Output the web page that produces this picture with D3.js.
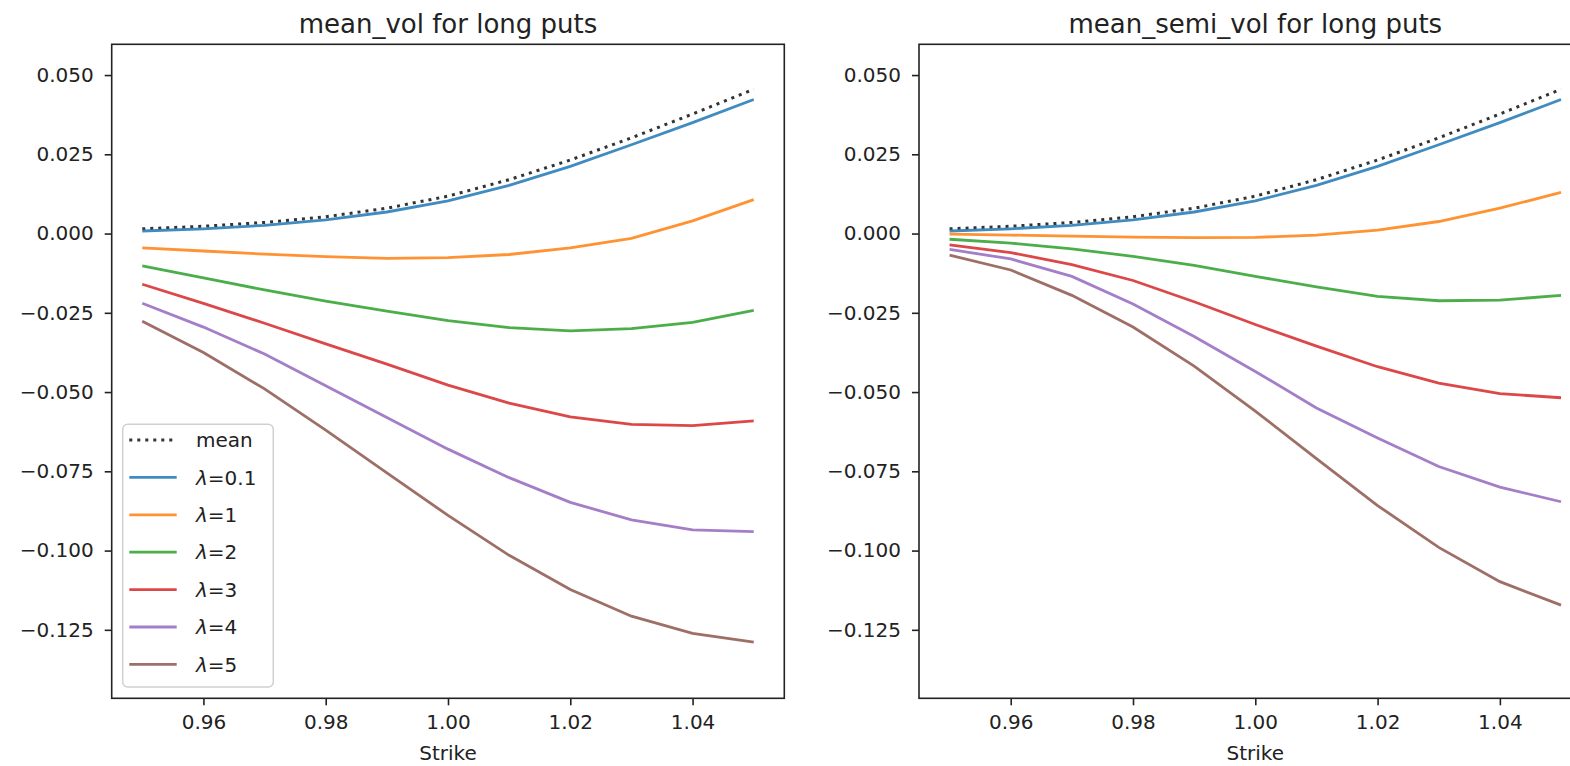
<!DOCTYPE html>
<html>
<head>
<meta charset="utf-8">
<script src="https://cdn.jsdelivr.net/npm/d3@7"></script>
<style>
  body { margin: 0; background: #fff; }
  svg text { font-family: "DejaVu Sans", sans-serif; fill: #222; }
</style>
</head>
<body>
<div id="chart"></div>
<script>
// strikes on the x axis
var strikes = [0.95, 0.96, 0.97, 0.98, 0.99, 1.00, 1.01, 1.02, 1.03, 1.04, 1.05];

// left panel: mean_vol
var meanLeft   = [0.0015, 0.0023, 0.0035, 0.0053, 0.0080, 0.0118, 0.0170, 0.0232, 0.0302, 0.0377, 0.0455];
var volLam01   = [0.0008, 0.0015, 0.0026, 0.0043, 0.0068, 0.0103, 0.0152, 0.0212, 0.0280, 0.0350, 0.0423];
var volLam1    = [-0.0045, -0.0055, -0.0065, -0.0073, -0.0078, -0.0076, -0.0066, -0.0045, -0.0015, 0.0040, 0.0107];
var volLam2    = [-0.0102, -0.0140, -0.0178, -0.0213, -0.0245, -0.0275, -0.0297, -0.0307, -0.0300, -0.0280, -0.0242];
var volLam3    = [-0.0160, -0.0220, -0.0283, -0.0348, -0.0412, -0.0478, -0.0535, -0.0578, -0.0602, -0.0606, -0.0591];
var volLam4    = [-0.0220, -0.0295, -0.0380, -0.0480, -0.0580, -0.0680, -0.0770, -0.0848, -0.0903, -0.0935, -0.0940];
var volLam5    = [-0.0277, -0.0375, -0.0490, -0.0620, -0.0755, -0.0889, -0.1015, -0.1123, -0.1207, -0.1261, -0.1289];

// right panel: mean_semi_vol
var meanRight  = [0.0015, 0.0023, 0.0035, 0.0053, 0.0080, 0.0118, 0.0170, 0.0232, 0.0302, 0.0377, 0.0455];
var semiLam01  = [0.0008, 0.0015, 0.0026, 0.0043, 0.0068, 0.0103, 0.0152, 0.0212, 0.0280, 0.0350, 0.0423];
var semiLam1   = [-0.0002, -0.0005, -0.0008, -0.0011, -0.0013, -0.0012, -0.0005, 0.0011, 0.0038, 0.0080, 0.0130];
var semiLam2   = [-0.0018, -0.0030, -0.0048, -0.0072, -0.0100, -0.0135, -0.0168, -0.0198, -0.0212, -0.0210, -0.0195];
var semiLam3   = [-0.0036, -0.0060, -0.0098, -0.0148, -0.0215, -0.0287, -0.0355, -0.0420, -0.0472, -0.0505, -0.0518];
var semiLam4   = [-0.0050, -0.0080, -0.0135, -0.0222, -0.0325, -0.0435, -0.0550, -0.0645, -0.0735, -0.0800, -0.0846];
var semiLam5   = [-0.0068, -0.0115, -0.0195, -0.0295, -0.0418, -0.0560, -0.0710, -0.0858, -0.0990, -0.1098, -0.1172];

var lambdaLabels = ["0.1", "1", "2", "3", "4", "5"];
var xTicks = [0.96, 0.98, 1.00, 1.02, 1.04];
var yTicks = [-0.125, -0.100, -0.075, -0.050, -0.025, 0.000, 0.025, 0.050];

var colors = ["#1f77b4", "#ff7f0e", "#2ca02c", "#d62728", "#9467bd", "#8c564b"];

var panelW = 672.6, panelH = 654;

var svg = d3.select('#chart').append('svg')
  .attr('width', 1570)
  .attr('height', 766);

var x = d3.scaleLinear().domain([0.945, 1.055]).range([0, panelW]);
var y = d3.scaleLinear().domain([-0.1466, 0.0597]).range([panelH, 0]);

var line = d3.line()
  .x(function(d, i) { return x(strikes[i]); })
  .y(function(d) { return y(d); });

function drawPanel(left, title, meanVals, series, withLegend) {
  var g = svg.append('g').attr('transform', 'translate(' + left + ',44.3)');

  g.append('defs').append('clipPath').attr('id', 'clip' + Math.round(left))
    .append('rect').attr('width', panelW).attr('height', panelH);

  var plot = g.append('g').attr('clip-path', 'url(#clip' + Math.round(left) + ')');

  plot.append('path')
    .datum(meanVals)
    .attr('d', line)
    .attr('fill', 'none')
    .attr('stroke', '#333')
    .attr('stroke-width', 3)
    .attr('stroke-dasharray', '3,5');

  series.forEach(function(s, k) {
    plot.append('path')
      .datum(s)
      .attr('d', line)
      .attr('fill', 'none')
      .attr('stroke', colors[k])
      .attr('stroke-opacity', 0.85)
      .attr('stroke-width', 2.8);
  });

  var xAxis = d3.axisBottom(x).tickValues(xTicks).tickFormat(d3.format('.2f')).tickSize(7).tickPadding(10);
  var yAxis = d3.axisLeft(y).tickValues(yTicks).tickFormat(d3.format('.3f')).tickSize(7).tickPadding(11);

  var gx = g.append('g').attr('transform', 'translate(0,' + panelH + ')').call(xAxis);
  var gy = g.append('g').call(yAxis);
  [gx, gy].forEach(function(a) {
    a.select('.domain').remove();
    a.selectAll('line').attr('stroke', '#222').attr('stroke-width', 1.6);
    a.selectAll('text').style('font-size', '20px').attr('fill', '#222');
  });

  // frame
  g.append('rect')
    .attr('width', panelW).attr('height', panelH)
    .attr('fill', 'none').attr('stroke', '#222').attr('stroke-width', 1.6);

  g.append('text')
    .attr('x', panelW / 2).attr('y', -11)
    .attr('text-anchor', 'middle')
    .style('font-size', '26px')
    .text(title);

  g.append('text')
    .attr('x', panelW / 2).attr('y', 716)
    .attr('text-anchor', 'middle')
    .style('font-size', '20px')
    .text('Strike');

  if (withLegend) {
    var lg = g.append('g').attr('transform', 'translate(11,380)');
    lg.append('rect')
      .attr('width', 150.6).attr('height', 262.7)
      .attr('rx', 5).attr('ry', 5)
      .attr('fill', '#fff').attr('fill-opacity', 0.8)
      .attr('stroke', '#d0d0d0').attr('stroke-width', 1.5);

    var entries = [{ label: 'mean', color: '#333', dash: '3,5' }];
    lambdaLabels.forEach(function(l, k) { entries.push({ label: l, color: colors[k], dash: null }); });

    entries.forEach(function(e, k) {
      var ry = 15.7 + k * 37.4;
      lg.append('line')
        .attr('x1', 6.6).attr('x2', 54)
        .attr('y1', ry).attr('y2', ry)
        .attr('stroke', e.color)
        .attr('stroke-opacity', e.dash ? 1 : 0.85)
        .attr('stroke-width', e.dash ? 3 : 2.8)
        .attr('stroke-dasharray', e.dash);
      var t = lg.append('text')
        .attr('x', 73.3).attr('y', ry).attr('dy', '0.36em')
        .style('font-size', '20px');
      if (k === 0) {
        t.text(e.label);
      } else {
        t.append('tspan').style('font-style', 'italic').text('λ');
        t.append('tspan').text('=' + e.label);
      }
    });
  }
}

drawPanel(111.7, 'mean_vol for long puts', meanLeft,
  [volLam01, volLam1, volLam2, volLam3, volLam4, volLam5], true);
drawPanel(919, 'mean_semi_vol for long puts', meanRight,
  [semiLam01, semiLam1, semiLam2, semiLam3, semiLam4, semiLam5], false);
</script>
</body>
</html>
